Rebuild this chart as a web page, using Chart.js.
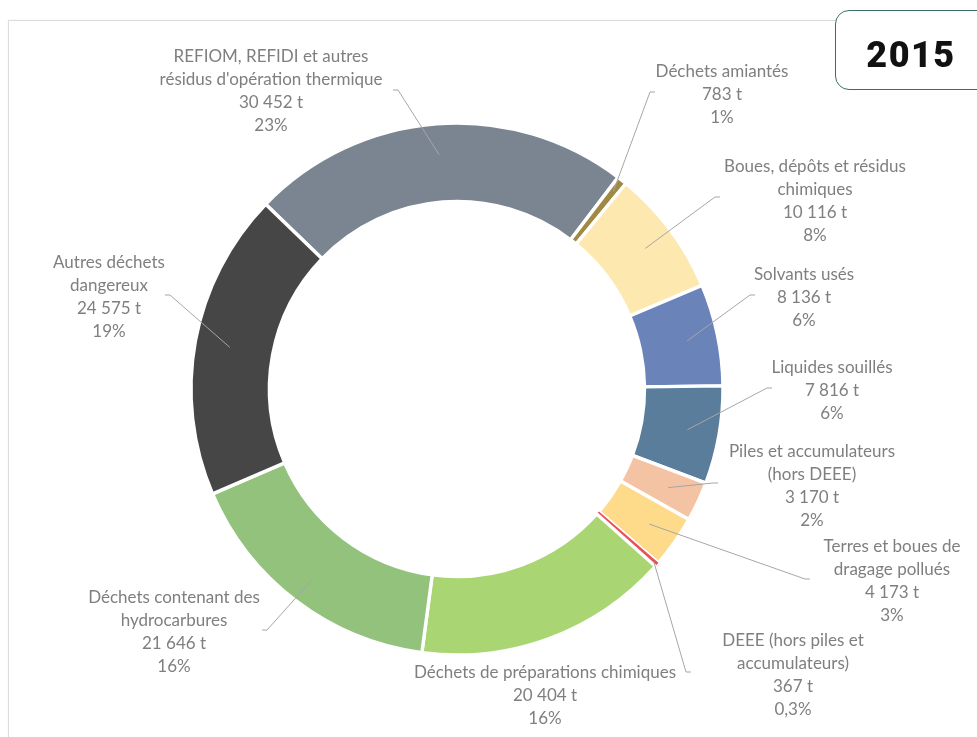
<!DOCTYPE html>
<html><head><meta charset="utf-8">
<script src="https://cdn.jsdelivr.net/npm/chart.js@4/dist/chart.umd.min.js"></script>
<style>
html,body{margin:0;padding:0;background:#fff;}
#wrap{position:relative;width:977px;height:737px;overflow:hidden;background:#fff;}
#frame{position:absolute;left:8px;top:20px;width:1100px;height:900px;border:1px solid #dcdcdc;box-shadow:0 0 2px rgba(0,0,0,0.06);}
#c{position:absolute;left:0;top:0;}
#badge{position:absolute;left:835px;top:10px;width:200px;height:80px;border:1.5px solid #3d6c67;border-radius:14px;background:#fff;box-sizing:border-box;}
#badge span{position:absolute;left:0;top:0;width:150px;height:77px;line-height:88px;text-align:center;font-family:Roboto,sans-serif;font-weight:900;font-size:36px;letter-spacing:1.5px;color:#111;}
</style></head>
<body><div id="wrap"><div id="frame"></div><canvas id="c" width="977" height="737"></canvas><div id="badge"><span>2015</span></div></div>
<script>
const categories = [
  "REFIOM, REFIDI et autres\nrésidus d'opération thermique",
  "Déchets amiantés",
  "Boues, dépôts et résidus\nchimiques",
  "Solvants usés",
  "Liquides souillés",
  "Piles et accumulateurs\n(hors DEEE)",
  "Terres et boues de\ndragage pollués",
  "DEEE (hors piles et\naccumulateurs)",
  "Déchets de préparations chimiques",
  "Déchets contenant des\nhydrocarbures",
  "Autres déchets\ndangereux"
];
const tonnages = [30452, 783, 10116, 8136, 7816, 3170, 4173, 367, 20404, 21646, 24575];
const percentLabels = ["23%", "1%", "8%", "6%", "6%", "2%", "3%", "0,3%", "16%", "16%", "19%"];

const sliceColors = ["#7a8591", "#a08a42", "#fde8b0", "#6a83b8", "#5a7d9b", "#f4c3a3", "#fddb8b", "#e8505a", "#a9d673", "#93c27c", "#464646"];
const borderWidths = [3.4, 3.4, 3.4, 3.4, 3.4, 3.4, 3.4, 0, 3.4, 3.4, 3.4];

// label placement (text centre x, first line y, leader anchor, leader radius)
const labelLayout = [
  {cx: 271, y: 57,  ax: 398, ay: 90,  r: 235},
  {cx: 722, y: 72,  ax: 650, ay: 92,  r: 252},
  {cx: 815, y: 167, ax: 715, ay: 197, r: 235},
  {cx: 804, y: 275, ax: 750, ay: 295, r: 235},
  {cx: 832, y: 368, ax: 767, ay: 388, r: 234},
  {cx: 812, y: 452, ax: 713, ay: 483, r: 233},
  {cx: 892, y: 547, ax: 805, ay: 579, r: 235},
  {cx: 793, y: 641, ax: 686, ay: 672, r: 262},
  {cx: 545, y: 673, ax: null},
  {cx: 174, y: 598, ax: 267, ay: 630, r: 238},
  {cx: 109, y: 263, ax: 170, ay: 295, r: 231}
];

function fmtT(n){ return String(n).replace(/\B(?=(\d{3})+(?!\d))/g, ' ') + ' t'; }

const labelPlugin = {
  id: 'outLabels',
  afterDatasetsDraw(chart){
    const ctx = chart.ctx;
    const meta = chart.getDatasetMeta(0);
    ctx.save();
    meta.data.forEach((arc, i) => {
      const L = labelLayout[i];
      const p = arc.getProps(['x','y','startAngle','endAngle'], true);
      if (L.ax !== null) {
        const mid = (p.startAngle + p.endAngle) / 2;
        const ex = p.x + Math.cos(mid) * L.r;
        const ey = p.y + Math.sin(mid) * L.r;
        const dir = Math.sign(L.cx - L.ax) || 1;
        ctx.strokeStyle = '#a6a6a6';
        ctx.lineWidth = 1;
        ctx.beginPath();
        ctx.moveTo(L.ax + dir * 5, L.ay);
        ctx.lineTo(L.ax, L.ay);
        ctx.lineTo(ex, ey);
        ctx.stroke();
      }
      const lines = categories[i].split('\n').concat([fmtT(tonnages[i]), percentLabels[i]]);
      ctx.fillStyle = '#7f7f7f';
      ctx.font = '17px Lato, "Open Sans", sans-serif';
      ctx.textAlign = 'center';
      ctx.textBaseline = 'middle';
      lines.forEach((t, k) => ctx.fillText(t, L.cx, L.y + k * 23));
    });
    ctx.restore();
  }
};

new Chart(document.getElementById('c'), {
  type: 'doughnut',
  data: {
    labels: categories,
    datasets: [{
      data: tonnages,
      backgroundColor: sliceColors,
      borderColor: '#ffffff',
      borderWidth: borderWidths,
      hoverOffset: 0,
      hoverBorderWidth: 0
    }]
  },
  options: {
    responsive: false,
    animation: false,
    events: [],
    rotation: -46,
    radius: 266,
    cutout: '70.5%',
    layout: {padding: {left: 100, right: 163, top: 123, bottom: 82}},
    plugins: {legend: {display: false}, tooltip: {enabled: false}}
  },
  plugins: [labelPlugin]
});
</script>
</body></html>
